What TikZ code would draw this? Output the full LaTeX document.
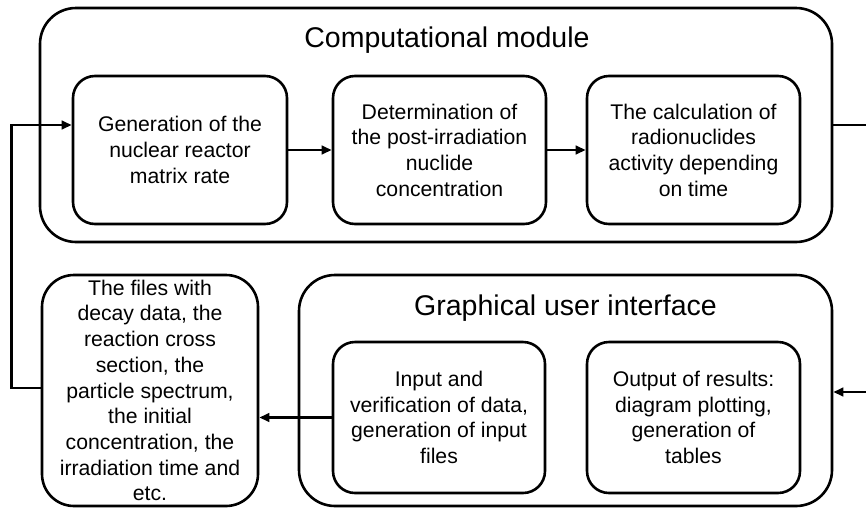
\documentclass[tikz,border=0pt]{standalone}
\usepackage{fontspec}
\setmainfont{Liberation Sans}
\usetikzlibrary{arrows.meta,calc}
\begin{document}
\begin{tikzpicture}[x=1pt,y=-1pt,
  box/.style={draw,line width=2.6pt,rounded corners=22pt,inner sep=0pt,align=center,font=\fontsize{21.2}{25.7}\selectfont},
  outerbox/.style={draw,line width=2.6pt,rounded corners=36pt,inner sep=0pt},
  titletext/.style={font=\fontsize{28.5}{34}\selectfont,anchor=base,inner sep=0pt},
  conn/.style={line width=2.6pt},
  arr/.style={conn,-{Triangle[length=10pt,width=8.5pt]}}]
\fill[white] (0,0) rectangle (866,509);
\useasboundingbox (0,0) rectangle (866,509);

% Computational module
\node[outerbox, minimum width=792pt, minimum height=234pt] (comp) at (436,125) {};
\node[titletext] (comptitle) at (447,47) {Computational module};
\node[box, minimum width=214pt, minimum height=148pt] (b1) at (180,150) {Generation of the\\nuclear reactor\\matrix rate};
\node[box, minimum width=213pt, minimum height=148pt] (b2) at (439.5,150) {Determination of\\the post-irradiation\\nuclide\\concentration};
\node[box, minimum width=213pt, minimum height=148pt] (b3) at (693.5,150) {The calculation of\\radionuclides\\activity depending\\on time};

% Graphical user interface
\node[outerbox, minimum width=533pt, minimum height=231pt] (gui) at (565.5,390.5) {};
\node[titletext] (guititle) at (565.5,315) {Graphical user interface};
\node[box, minimum width=212pt, minimum height=151pt] (inp) at (439,417.5) {Input and\\verification of data,\\generation of input\\files};
\node[box, minimum width=213pt, minimum height=151pt] (outp) at (693.5,417.5) {Output of results:\\diagram plotting,\\generation of\\tables};

% Files box
\node[box, rounded corners=32pt, minimum width=216pt, minimum height=231pt] (files) at (150,390.5) {The files with\\decay data, the\\reaction cross\\section, the\\particle spectrum,\\the initial\\concentration, the\\irradiation time and\\etc.};

% free ends at the right border
\coordinate (outR) at (866,125);
\coordinate (inR) at (866,392);

% connectors
\draw[arr] (b1.east) -- (b2.west);
\draw[arr] (b2.west -| b2.east) -- (b3.west);
\draw[conn] (comp.east) -- (outR);
\draw[arr] (inR) -- (inR -| gui.east);
\draw[arr] (inp.west) -- (inp.west -| files.east);
\draw[arr] ([yshift=2.5pt]files.west) -- ++(-29,0) |- ([yshift=25pt]b1.west);
\end{tikzpicture}
\end{document}
